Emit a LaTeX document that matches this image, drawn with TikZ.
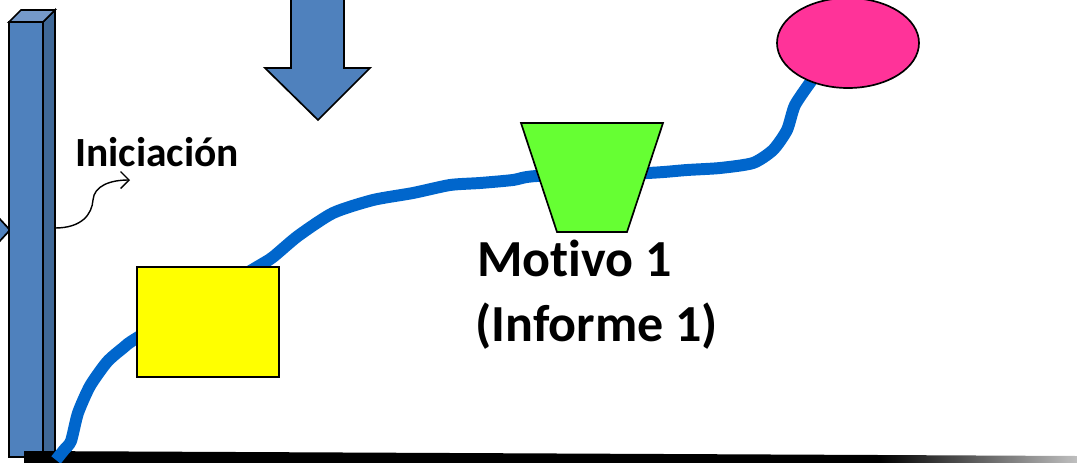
\documentclass[tikz,border=0pt]{standalone}
\usepackage{fontspec}
\setmainfont{Carlito}[Ligatures={NoCommon}]
\usepackage{tikz}
\usetikzlibrary{arrows.meta, positioning}

\definecolor{barblue}{HTML}{4F81BD}
\definecolor{barside}{HTML}{3F6897}
\definecolor{bartop}{HTML}{7599C9}
\definecolor{pathblue}{HTML}{0066CC}
\definecolor{boxyellow}{HTML}{FFFF00}
\definecolor{trapgreen}{HTML}{66FF33}
\definecolor{goalpink}{HTML}{FF3399}

\begin{document}
\begin{tikzpicture}[
    x=0.025cm, y=-0.025cm,
    outlined/.style={draw=black, line width=1.2pt, line join=miter},
    txt/.style={font=\bfseries, inner sep=0pt, anchor=base west},
    >={Straight Barb[length=6pt, width=12pt]}
]
\useasboundingbox (0,0) rectangle (1077,462);

% Small arrow on the left edge
\filldraw[outlined, fill=barblue] (-2,217) -- (10,230) -- (-2,243);

% Bar
\filldraw[outlined, fill=barside] (43,22) -- (55,10) -- (55,452) -- (43,457) -- cycle;
\filldraw[outlined, fill=bartop] (9,22) -- (21,10) -- (55,10) -- (43,22) -- cycle;
\filldraw[outlined, fill=barblue] (9,22) rectangle (43,457);
\coordinate (bar_side) at (55,228);

% Down arrow
\filldraw[outlined, fill=barblue] (291,-5) -- (291,68) -- (265,68) -- (318,120)
    -- (370,68) -- (344,68) -- (344,-5) -- cycle;

% Ground line
\fill[black] (24,451) -- (880,455) -- (880,463) -- (24,463) -- cycle;
\shade[left color=black, right color=black!25] (879,455) -- (1077,456) -- (1077,463) -- (879,463) -- cycle;

% Path
\draw[pathblue, line width=8.5pt, line join=round] plot[smooth, tension=0.4] coordinates {
    (56,460) (64,450) (71,441) (78,413) (90,386) (107,362) (123,348) (140,336)
    (257,267) (273,257) (298,236) (333,213) (373,200) (413,193) (450,185)
    (480,183) (513,180) (537,176) (647,173) (687,170) (720,168) (753,163)
    (773,150) (787,130) (795,105) (812,80)};

% Steps along the path
\filldraw[outlined, fill=boxyellow] (137,267) rectangle (279,377);
\filldraw[outlined, fill=trapgreen] (521,123) -- (663,123) -- (627,232) -- (557,232) -- cycle;
\filldraw[outlined, fill=goalpink] (848,43) ellipse (71 and 45);

% Labels
\node[txt, font=\bfseries\fontsize{29.5}{34}\selectfont] (ini) at (75,166) {Iniciación};
\node[txt, font=\bfseries\fontsize{37}{44}\selectfont] (mot) at (477,276) {Motivo 1};
\node[txt, font=\bfseries\fontsize{37}{44}\selectfont] (inf) at (475,341) {(Informe 1)};

% Curly arrow
\coordinate (ini_tip) at (130,180);
\draw[->, line width=1pt] (bar_side) .. controls (82,228) and (92,214) .. (93,200)
    .. controls (94,186) and (110,180) .. (ini_tip);

\end{tikzpicture}
\end{document}
